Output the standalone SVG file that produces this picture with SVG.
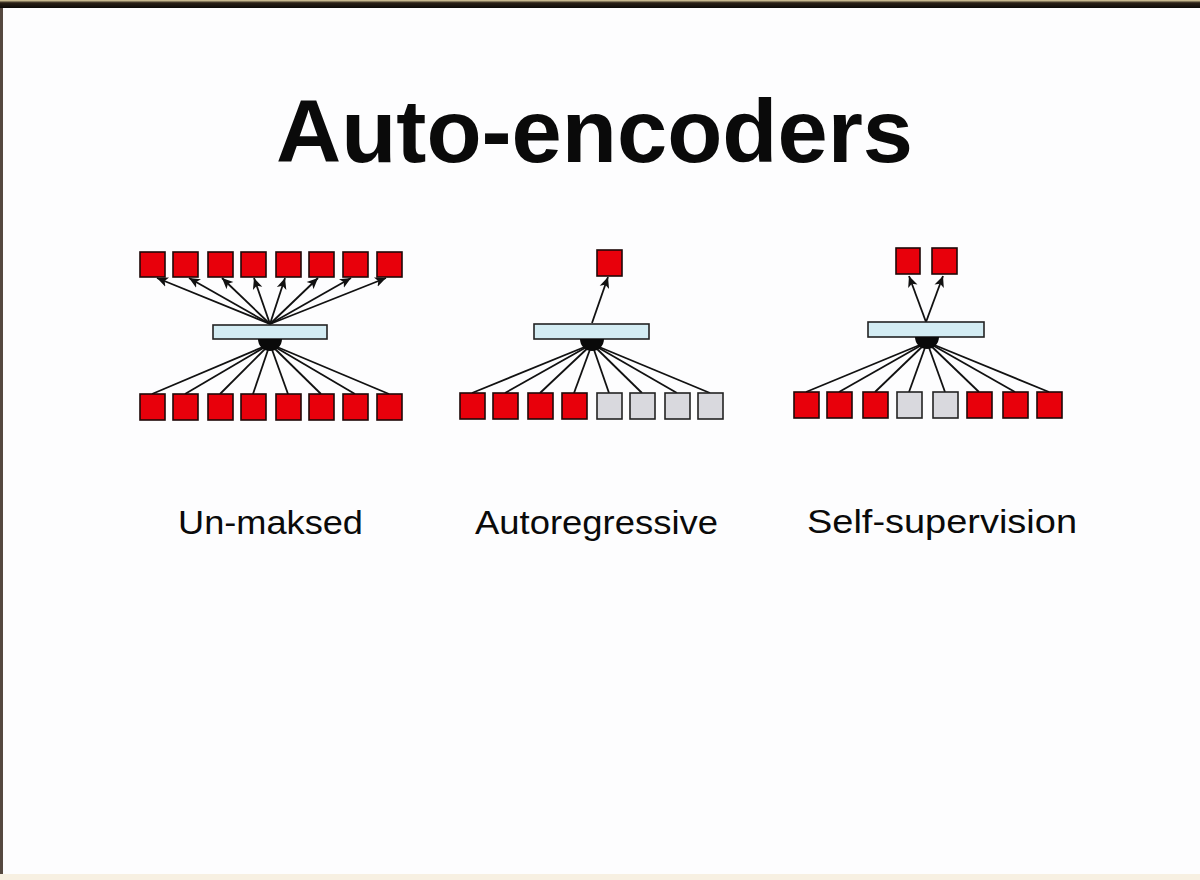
<svg xmlns="http://www.w3.org/2000/svg" width="1200" height="880" viewBox="0 0 1200 880">
<defs>
<style>
.t{font-family:"Liberation Sans",Arial,sans-serif;fill:#0a0a0a}
.title{font-size:89px;font-weight:bold}
.lbl{font-size:33px}
.r{fill:#e8000b;stroke:#1e0808;stroke-width:1.6}
.g{fill:#d9d9de;stroke:#222;stroke-width:1.6}
.bar{fill:#d3ecf3;stroke:#222;stroke-width:1.6}
.hub{fill:#0a0a0a}
.c line{stroke:#111;stroke-width:1.8}
.c .a{marker-end:url(#ah)}
</style>
<marker id="ah" markerUnits="userSpaceOnUse" markerWidth="11" markerHeight="11" viewBox="0 0 10 10" refX="10" refY="5" orient="auto">
<path d="M0,0.5 L10,5 L0,9.5 L2.5,5 Z" fill="#111"/>
</marker>
<linearGradient id="topband" x1="0" y1="0" x2="0" y2="1">
<stop offset="0" stop-color="#e8d9a8"/>
<stop offset="0.35" stop-color="#2a2016"/>
<stop offset="1" stop-color="#0d0b09"/>
</linearGradient>
</defs>
<rect width="1200" height="880" fill="#fdfdfe"/>
<rect x="0" y="0" width="1200" height="8" fill="url(#topband)"/>
<rect x="0" y="8" width="3" height="870" fill="#2b1a10" opacity="0.8"/>
<rect x="0" y="874" width="1200" height="6" fill="#f7f0e2"/>

<text id="title" class="t title" x="276" y="162" textLength="637" lengthAdjust="spacingAndGlyphs">Auto-encoders</text>

<g id="connectors" class="c">
<line x1="152" y1="394" x2="270" y2="344"/>
<line x1="185" y1="394" x2="270" y2="344"/>
<line x1="220" y1="394" x2="270" y2="344"/>
<line x1="253" y1="394" x2="270" y2="344"/>
<line x1="288" y1="394" x2="270" y2="344"/>
<line x1="321" y1="394" x2="270" y2="344"/>
<line x1="355" y1="394" x2="270" y2="344"/>
<line x1="389" y1="394" x2="270" y2="344"/>
<line class="a" x1="270" y1="324" x2="157" y2="278"/>
<line class="a" x1="270" y1="324" x2="189" y2="278"/>
<line class="a" x1="270" y1="324" x2="222" y2="278"/>
<line class="a" x1="270" y1="324" x2="254" y2="278"/>
<line class="a" x1="270" y1="324" x2="285" y2="278"/>
<line class="a" x1="270" y1="324" x2="318" y2="278"/>
<line class="a" x1="270" y1="324" x2="351" y2="278"/>
<line class="a" x1="270" y1="324" x2="386" y2="278"/>
<line x1="472" y1="393" x2="592" y2="344"/>
<line x1="505" y1="393" x2="592" y2="344"/>
<line x1="540" y1="393" x2="592" y2="344"/>
<line x1="574" y1="393" x2="592" y2="344"/>
<line x1="609" y1="393" x2="592" y2="344"/>
<line x1="642" y1="393" x2="592" y2="344"/>
<line x1="677" y1="393" x2="592" y2="344"/>
<line x1="710" y1="393" x2="592" y2="344"/>
<line class="a" x1="592" y1="323" x2="608" y2="277"/>
<line x1="806" y1="392" x2="927" y2="342"/>
<line x1="839" y1="392" x2="927" y2="342"/>
<line x1="875" y1="392" x2="927" y2="342"/>
<line x1="909" y1="392" x2="927" y2="342"/>
<line x1="945" y1="392" x2="927" y2="342"/>
<line x1="979" y1="392" x2="927" y2="342"/>
<line x1="1015" y1="392" x2="927" y2="342"/>
<line x1="1049" y1="392" x2="927" y2="342"/>
<line class="a" x1="926" y1="322" x2="909" y2="276"/>
<line class="a" x1="926" y1="322" x2="943" y2="276"/>
</g>

<g id="p1-bar"><rect class="bar" x="213" y="325" width="114" height="14"/></g>
<g id="p1-hub"><path class="hub" d="M258,339 A12,12 0 0 0 282,339 Z"/></g>
<g id="p1-out1"><rect class="r" x="140" y="252" width="25" height="25"/></g>
<g id="p1-out2"><rect class="r" x="173" y="252" width="25" height="25"/></g>
<g id="p1-out3"><rect class="r" x="208" y="252" width="25" height="25"/></g>
<g id="p1-out4"><rect class="r" x="241" y="252" width="25" height="25"/></g>
<g id="p1-out5"><rect class="r" x="276" y="252" width="25" height="25"/></g>
<g id="p1-out6"><rect class="r" x="309" y="252" width="25" height="25"/></g>
<g id="p1-out7"><rect class="r" x="343" y="252" width="25" height="25"/></g>
<g id="p1-out8"><rect class="r" x="377" y="252" width="25" height="25"/></g>
<g id="p1-in1"><rect class="r" x="140" y="394" width="25" height="26"/></g>
<g id="p1-in2"><rect class="r" x="173" y="394" width="25" height="26"/></g>
<g id="p1-in3"><rect class="r" x="208" y="394" width="25" height="26"/></g>
<g id="p1-in4"><rect class="r" x="241" y="394" width="25" height="26"/></g>
<g id="p1-in5"><rect class="r" x="276" y="394" width="25" height="26"/></g>
<g id="p1-in6"><rect class="r" x="309" y="394" width="25" height="26"/></g>
<g id="p1-in7"><rect class="r" x="343" y="394" width="25" height="26"/></g>
<g id="p1-in8"><rect class="r" x="377" y="394" width="25" height="26"/></g>
<text id="p1-label" class="t lbl" x="178" y="534" textLength="185" lengthAdjust="spacingAndGlyphs">Un-maksed</text>

<g id="p2-bar"><rect class="bar" x="534" y="324" width="115" height="15"/></g>
<g id="p2-hub"><path class="hub" d="M580,339 A12,12 0 0 0 604,339 Z"/></g>
<g id="p2-out1"><rect class="r" x="597" y="250" width="25" height="26"/></g>
<g id="p2-in1"><rect class="r" x="460" y="393" width="25" height="26"/></g>
<g id="p2-in2"><rect class="r" x="493" y="393" width="25" height="26"/></g>
<g id="p2-in3"><rect class="r" x="528" y="393" width="25" height="26"/></g>
<g id="p2-in4"><rect class="r" x="562" y="393" width="25" height="26"/></g>
<g id="p2-in5"><rect class="g" x="597" y="393" width="25" height="26"/></g>
<g id="p2-in6"><rect class="g" x="630" y="393" width="25" height="26"/></g>
<g id="p2-in7"><rect class="g" x="665" y="393" width="25" height="26"/></g>
<g id="p2-in8"><rect class="g" x="698" y="393" width="25" height="26"/></g>
<text id="p2-label" class="t lbl" x="475" y="534" textLength="243" lengthAdjust="spacingAndGlyphs">Autoregressive</text>

<g id="p3-bar"><rect class="bar" x="868" y="322" width="116" height="15"/></g>
<g id="p3-hub"><path class="hub" d="M915,337 A12,12 0 0 0 939,337 Z"/></g>
<g id="p3-out1"><rect class="r" x="896" y="248" width="24" height="26"/></g>
<g id="p3-out2"><rect class="r" x="932" y="248" width="25" height="26"/></g>
<g id="p3-in1"><rect class="r" x="794" y="392" width="25" height="26"/></g>
<g id="p3-in2"><rect class="r" x="827" y="392" width="25" height="26"/></g>
<g id="p3-in3"><rect class="r" x="863" y="392" width="25" height="26"/></g>
<g id="p3-in4"><rect class="g" x="897" y="392" width="25" height="26"/></g>
<g id="p3-in5"><rect class="g" x="933" y="392" width="25" height="26"/></g>
<g id="p3-in6"><rect class="r" x="967" y="392" width="25" height="26"/></g>
<g id="p3-in7"><rect class="r" x="1003" y="392" width="25" height="26"/></g>
<g id="p3-in8"><rect class="r" x="1037" y="392" width="25" height="26"/></g>
<text id="p3-label" class="t lbl" x="807" y="533" textLength="270" lengthAdjust="spacingAndGlyphs">Self-supervision</text>
</svg>
